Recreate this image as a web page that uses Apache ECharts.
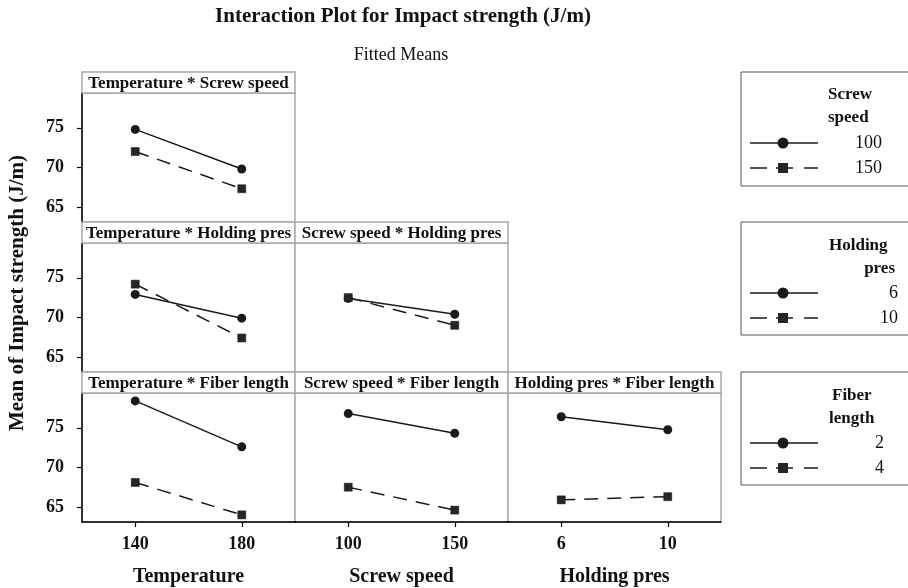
<!DOCTYPE html>
<html><head><meta charset="utf-8">
<script src="https://cdn.jsdelivr.net/npm/echarts@6/dist/echarts.min.js"></script>
<style>html,body{margin:0;padding:0;background:#fff}#c{width:908px;height:588px}</style>
</head><body><div id="c"></div>
<script>
// ---- data ----
const tempLevels = ['140', '180'];
const screwLevels = ['100', '150'];
const holdLevels = ['6', '10'];
const yTicks = [65, 70, 75];

// Temperature * Screw speed (screw 100 / 150)
const tempScrew100 = [74.8, 69.8];
const tempScrew150 = [72.0, 67.3];
// Temperature * Holding pres (hold 6 / 10)
const tempHold6 = [72.9, 69.9];
const tempHold10 = [74.2, 67.4];
// Screw speed * Holding pres
const screwHold6 = [72.4, 70.4];
const screwHold10 = [72.5, 69.0];
// Temperature * Fiber length (fiber 2 / 4)
const tempFiber2 = [78.4, 72.6];
const tempFiber4 = [68.1, 64.0];
// Screw speed * Fiber length
const screwFiber2 = [76.8, 74.3];
const screwFiber4 = [67.5, 64.6];
// Holding pres * Fiber length
const holdFiber2 = [76.4, 74.75];
const holdFiber4 = [65.9, 66.3];

const legendGroups = [
  {title: ['Screw', 'speed'], levels: ['100', '150']},
  {title: ['Holding', 'pres'], levels: ['6', '10']},
  {title: ['Fiber', 'length'], levels: ['2', '4']}
];

const panels = [
  {row: 0, col: 0, title: 'Temperature * Screw speed', x: tempLevels, a: tempScrew100, b: tempScrew150, names: ['100', '150']},
  {row: 1, col: 0, title: 'Temperature * Holding pres', x: tempLevels, a: tempHold6, b: tempHold10, names: ['6', '10']},
  {row: 1, col: 1, title: 'Screw speed * Holding pres', x: screwLevels, a: screwHold6, b: screwHold10, names: ['6', '10']},
  {row: 2, col: 0, title: 'Temperature * Fiber length', x: tempLevels, a: tempFiber2, b: tempFiber4, names: ['2', '4']},
  {row: 2, col: 1, title: 'Screw speed * Fiber length', x: screwLevels, a: screwFiber2, b: screwFiber4, names: ['2', '4']},
  {row: 2, col: 2, title: 'Holding pres * Fiber length', x: holdLevels, a: holdFiber2, b: holdFiber4, names: ['2', '4']}
];
const xNames = ['Temperature', 'Screw speed', 'Holding pres'];

// ---- layout ----
const FONT = 'Liberation Serif';
const L0 = 82, T0 = 72, CW = 213, RH = 150, STRIP = 21;
const FRAME = '#a8a8a8';
const INK = '#1a1a1a';

const grids = [], xAxes = [], yAxes = [], series = [], graphics = [];

panels.forEach((p, i) => {
  const left = L0 + CW * p.col;
  const rowTop = T0 + RH * p.row;
  grids.push({left: left, top: rowTop + STRIP, width: CW, height: RH - STRIP,
    show: true, borderColor: FRAME, borderWidth: 1.5, backgroundColor: '#fff', containLabel: false});
  const bottomRow = p.row === 2;
  xAxes.push({
    gridIndex: i, type: 'category', data: p.x, boundaryGap: true, show: bottomRow,
    axisLine: {show: true, lineStyle: {color: '#000', width: 1.5}},
    axisTick: {show: true, alignWithLabel: true, length: 5, lineStyle: {color: '#000', width: 1.2}},
    axisLabel: {show: true, margin: 13, fontFamily: FONT, fontWeight: 'bold', fontSize: 18, color: '#111'},
    name: bottomRow ? xNames[p.col] : '', nameLocation: 'middle', nameGap: 45,
    nameTextStyle: {fontFamily: FONT, fontWeight: 'bold', fontSize: 20, color: '#111'},
    splitLine: {show: false}
  });
  yAxes.push({
    gridIndex: i, type: 'value', min: 63.1, max: 79.4, show: p.col === 0,
    axisLine: {show: true, lineStyle: {color: '#000', width: 1.5}},
    axisTick: {show: true, length: 5, customValues: yTicks, lineStyle: {color: '#000', width: 1.2}},
    axisLabel: {show: true, customValues: yTicks, margin: 18, fontFamily: FONT, fontWeight: 'bold', fontSize: 18, color: '#111'},
    splitLine: {show: false}
  });
  series.push({
    type: 'line', name: p.names[0], xAxisIndex: i, yAxisIndex: i, data: p.a,
    symbol: 'circle', symbolSize: 9, lineStyle: {color: INK, width: 1.5},
    itemStyle: {color: INK}, silent: true, z: 3
  });
  series.push({
    type: 'line', name: p.names[1], xAxisIndex: i, yAxisIndex: i, data: p.b,
    symbol: 'rect', symbolSize: 8, lineStyle: {color: INK, width: 1.5, type: [14, 9]},
    itemStyle: {color: '#262626', borderColor: '#111', borderWidth: 0.5}, silent: true, z: 3
  });
  // strip
  graphics.push({type: 'rect', shape: {x: left, y: rowTop, width: CW, height: STRIP},
    style: {fill: '#fff', stroke: FRAME, lineWidth: 1.5}, z: 10});
  graphics.push({type: 'text', x: left + CW / 2, y: rowTop + STRIP / 2 + 1,
    style: {text: p.title, fontFamily: FONT, fontWeight: 'bold', fontSize: 17, fill: '#111',
      textAlign: 'center', textVerticalAlign: 'middle'}, z: 11});
});

// titles
graphics.push({type: 'text', x: 403, y: 17, style: {text: 'Interaction Plot for Impact strength (J/m)',
  fontFamily: FONT, fontWeight: 'bold', fontSize: 21, fill: '#111', textAlign: 'center', textVerticalAlign: 'middle'}});
graphics.push({type: 'text', x: 401, y: 55, style: {text: 'Fitted Means',
  fontFamily: FONT, fontSize: 18, fill: '#111', textAlign: 'center', textVerticalAlign: 'middle'}});
// y axis name
graphics.push({type: 'text', x: 18, y: 293, rotation: Math.PI / 2, style: {text: 'Mean of Impact strength (J/m)',
  fontFamily: FONT, fontWeight: 'bold', fontSize: 21, fill: '#111', textAlign: 'center', textVerticalAlign: 'middle'}});

// legends
const legBoxes = [
  {y: 72, h: 114, head: [[828, 95, 'left'], [828, 118, 'left']], valX: 882},
  {y: 222, h: 113, head: [[829, 246, 'left'], [895, 269, 'right']], valX: 898},
  {y: 372, h: 113, head: [[832, 396, 'left'], [829, 419, 'left']], valX: 884}
];
legendGroups.forEach((g, k) => {
  const b = legBoxes[k];
  graphics.push({type: 'rect', shape: {x: 741, y: b.y, width: 200, height: b.h},
    style: {fill: '#fff', stroke: '#555', lineWidth: 1}});
  g.title.forEach((t, j) => {
    graphics.push({type: 'text', x: b.head[j][0], y: b.head[j][1], style: {text: t, fontFamily: FONT,
      fontWeight: 'bold', fontSize: 17, fill: '#111', textAlign: b.head[j][2], textVerticalAlign: 'middle'}});
  });
  const y1 = b.y + 71, y2 = b.y + 96;
  graphics.push({type: 'line', shape: {x1: 750, y1: y1, x2: 818, y2: y1}, style: {stroke: INK, lineWidth: 1.5}});
  graphics.push({type: 'circle', shape: {cx: 783, cy: y1, r: 5.5}, style: {fill: INK}});
  graphics.push({type: 'line', shape: {x1: 750, y1: y2, x2: 767, y2: y2}, style: {stroke: INK, lineWidth: 1.5}});
  graphics.push({type: 'line', shape: {x1: 804, y1: y2, x2: 818, y2: y2}, style: {stroke: INK, lineWidth: 1.5}});
  graphics.push({type: 'line', shape: {x1: 776, y1: y2, x2: 793, y2: y2}, style: {stroke: INK, lineWidth: 1.5}});
  graphics.push({type: 'rect', shape: {x: 778, y: y2 - 5, width: 10, height: 10}, style: {fill: '#262626'}});
  g.levels.forEach((v, j) => {
    graphics.push({type: 'text', x: b.valX, y: j === 0 ? y1 : y2, style: {text: v, fontFamily: FONT,
      fontSize: 18, fill: '#111', textAlign: 'right', textVerticalAlign: 'middle'}});
  });
});

const chart = echarts.init(document.getElementById('c'), null, {renderer: 'canvas'});
chart.setOption({
  backgroundColor: '#fff',
  animation: false,
  grid: grids, xAxis: xAxes, yAxis: yAxes, series: series,
  graphic: {elements: graphics}
});
</script></body></html>
